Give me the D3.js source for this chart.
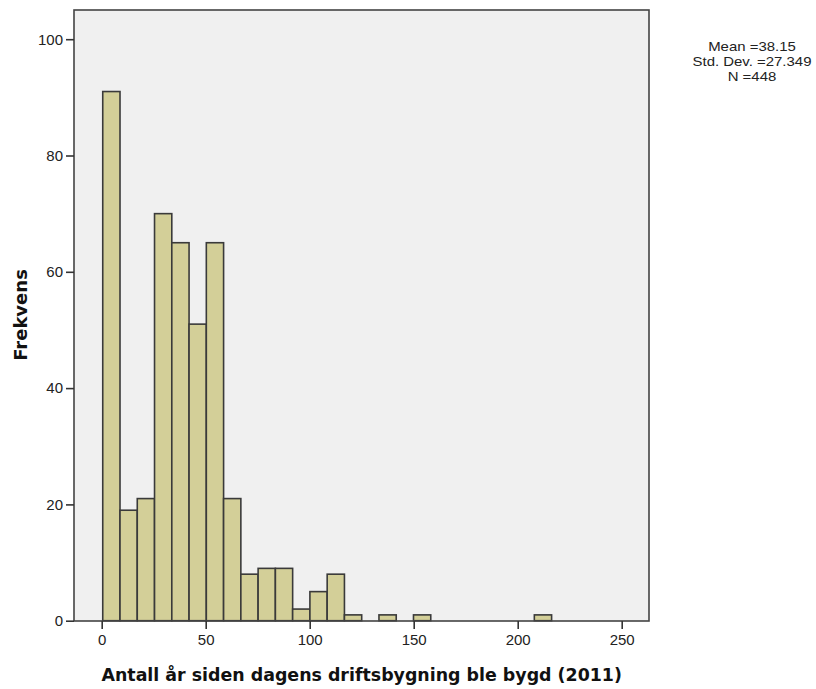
<!DOCTYPE html>
<html>
<head>
<meta charset="utf-8">
<script src="https://cdn.jsdelivr.net/npm/d3@7"></script>
<style>
  html, body { margin: 0; padding: 0; background: #fff; }
  svg { display: block; }
</style>
</head>
<body>
<div id="chart"></div>
<script>
// ---- data ----
const binStart = 0.5;          // lower edge of first bin (years)
const binWidth = 8.3;          // bin width (years)
const binIndex = [0,1,2,3,4,5,6,7,8,9,10,11,12,13,14,16,18,25];
const binCounts = [91,19,21,70,65,51,65,21,8,9,9,2,5,8,1,1,1,1];
const xTicks = [0, 50, 100, 150, 200, 250];
const yTicks = [0, 20, 40, 60, 80, 100];
const statsLines = ["Mean =38.15", "Std. Dev. =27.349", "N =448"];
const xTitle = "Antall år siden dagens driftsbygning ble bygd (2011)";
const yTitle = "Frekvens";

// ---- layout ----
const W = 816, H = 689;
const frame = {left: 74, top: 10, right: 649, bottom: 621};

const svg = d3.select("#chart").append("svg")
  .attr("width", W).attr("height", H);

const x = d3.scaleLinear().domain([0, 250]).range([101.7, 621.7]);
const y = d3.scaleLinear().domain([0, 100]).range([620.7, 39.2]);

// frame background
svg.append("rect")
  .attr("x", frame.left).attr("y", frame.top)
  .attr("width", frame.right - frame.left).attr("height", frame.bottom - frame.top)
  .attr("fill", "#f0f0f0").attr("stroke", "none");

// bars
const bins = binIndex.map((b, i) => ({x0: binStart + b * binWidth, x1: binStart + (b + 1) * binWidth, n: binCounts[i]}));
svg.append("g").selectAll("rect").data(bins).join("rect")
  .attr("x", d => x(d.x0))
  .attr("y", d => y(d.n))
  .attr("width", d => x(d.x1) - x(d.x0))
  .attr("height", d => y(0) - y(d.n))
  .attr("fill", "#d3cf98")
  .attr("stroke", "#3a3a3a")
  .attr("stroke-width", 1.6);

// frame border
svg.append("rect")
  .attr("x", frame.left).attr("y", frame.top)
  .attr("width", frame.right - frame.left).attr("height", frame.bottom - frame.top)
  .attr("fill", "none").attr("stroke", "#444").attr("stroke-width", 1.6);

// axes
const xAxis = d3.axisBottom(x).tickValues(xTicks).tickSize(8).tickPadding(5).tickSizeOuter(0);
const gx = svg.append("g").attr("transform", `translate(0,${frame.bottom})`).call(xAxis);
gx.select(".domain").remove();
gx.selectAll(".tick line").attr("stroke", "#333").attr("stroke-width", 1.6);
gx.selectAll(".tick text").attr("font-family", "Liberation Sans, Arial, sans-serif").attr("font-size", 15).attr("fill", "#222");

const yAxis = d3.axisLeft(y).tickValues(yTicks).tickSize(8).tickPadding(3).tickSizeOuter(0);
const gy = svg.append("g").attr("transform", `translate(${frame.left},0)`).call(yAxis);
gy.select(".domain").remove();
gy.selectAll(".tick line").attr("stroke", "#333").attr("stroke-width", 1.6);
gy.selectAll(".tick text").attr("font-family", "Liberation Sans, Arial, sans-serif").attr("font-size", 15).attr("fill", "#222");

// titles
svg.append("text")
  .attr("x", 361.7).attr("y", 681)
  .attr("text-anchor", "middle")
  .attr("font-family", "DejaVu Sans, Verdana, sans-serif").attr("font-weight", "bold")
  .attr("font-size", 17.4).attr("fill", "#111")
  .text(xTitle);

svg.append("text")
  .attr("transform", "translate(27,315) rotate(-90)")
  .attr("text-anchor", "middle")
  .attr("font-family", "DejaVu Sans, Verdana, sans-serif").attr("font-weight", "bold")
  .attr("font-size", 18).attr("fill", "#111")
  .text(yTitle);

// stats
svg.append("g").selectAll("text").data(statsLines).join("text")
  .attr("x", 752).attr("y", (d, i) => 51.5 + i * 15)
  .attr("text-anchor", "middle")
  .attr("font-family", "Liberation Sans, Arial, sans-serif")
  .attr("font-size", 13).attr("fill", "#222")
  .attr("transform", "translate(752,0) scale(1.15,1) translate(-752,0)")
  .text(d => d);
</script>
</body>
</html>
